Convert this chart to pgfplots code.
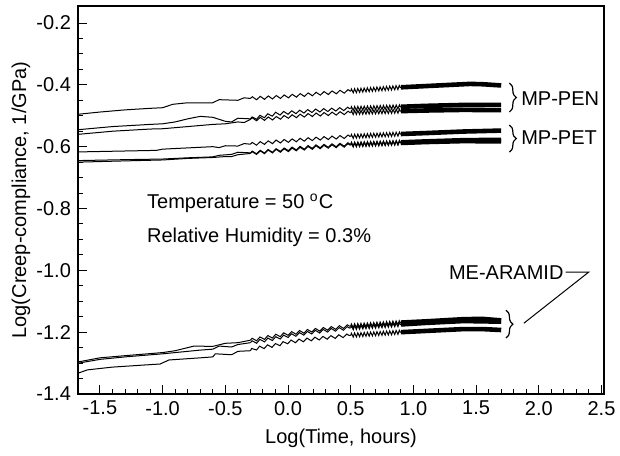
\documentclass[border=0pt]{standalone}
\usepackage{fontspec}
\setmainfont{Liberation Sans}
\usepackage{pgfplots}
\pgfplotsset{compat=1.18}
\usepackage{pgfplotstable}
\usetikzlibrary{decorations.pathmorphing,decorations.pathreplacing}

% MP-PEN
\pgfplotstableread{
x y
-1.67 -0.495
-1.5 -0.488
-1.3 -0.481
-1.1 -0.476
-1.0 -0.474
-0.92 -0.463
-0.8 -0.458
-0.6 -0.458
-0.55 -0.448
-0.4 -0.450
-0.35 -0.442
-0.3 -0.444
-0.1 -0.440
0.0 -0.437
0.2 -0.430
0.5 -0.420
0.7 -0.414
0.9 -0.408
1.1 -0.404
1.3 -0.400
1.45 -0.397
1.55 -0.398
1.7 -0.402
}\penA
\pgfplotstableread{
x y
-1.67 -0.545
-1.4 -0.535
-1.1 -0.528
-1.0 -0.526
-0.9 -0.520
-0.8 -0.510
-0.7 -0.502
-0.6 -0.505
-0.5 -0.518
-0.45 -0.520
-0.4 -0.508
-0.3 -0.510
-0.1 -0.494
0.0 -0.490
0.2 -0.484
0.5 -0.477
0.9 -0.471
1.1 -0.468
1.4 -0.465
1.7 -0.465
}\penB
\pgfplotstableread{
x y
-1.67 -0.560
-1.4 -0.550
-1.1 -0.543
-1.0 -0.542
-0.8 -0.535
-0.6 -0.528
-0.5 -0.526
-0.4 -0.520
-0.35 -0.522
-0.3 -0.512
-0.1 -0.508
0.0 -0.503
0.2 -0.497
0.5 -0.490
0.9 -0.485
1.1 -0.483
1.4 -0.481
1.7 -0.482
}\penC
% MP-PET
\pgfplotstableread{
x y
-1.67 -0.617
-1.3 -0.614
-1.05 -0.612
-1.0 -0.608
-0.8 -0.604
-0.6 -0.600
-0.55 -0.603
-0.5 -0.597
-0.4 -0.598
-0.35 -0.590
-0.3 -0.592
-0.1 -0.584
0.0 -0.581
0.2 -0.575
0.5 -0.567
0.9 -0.559
1.1 -0.556
1.4 -0.551
1.7 -0.548
}\petA
\pgfplotstableread{
x y
-1.67 -0.645
-1.3 -0.642
-1.0 -0.640
-0.8 -0.636
-0.6 -0.633
-0.55 -0.628
-0.45 -0.625
-0.4 -0.618
-0.3 -0.620
-0.1 -0.612
0.0 -0.608
0.2 -0.600
0.5 -0.592
0.9 -0.586
1.1 -0.583
1.4 -0.579
1.7 -0.578
}\petB
\pgfplotstableread{
x y
-1.67 -0.650
-1.3 -0.646
-1.0 -0.643
-0.8 -0.638
-0.6 -0.635
-0.5 -0.632
-0.45 -0.632
-0.4 -0.626
-0.3 -0.622
-0.1 -0.614
0.0 -0.611
0.2 -0.603
0.5 -0.595
0.9 -0.588
1.1 -0.585
1.4 -0.582
1.7 -0.583
}\petC
% ME-ARAMID
\pgfplotstableread{
x y
-1.67 -1.296
-1.5 -1.283
-1.3 -1.276
-1.0 -1.266
-0.9 -1.260
-0.75 -1.245
-0.6 -1.246
-0.5 -1.236
-0.4 -1.234
-0.3 -1.226
-0.1 -1.212
0.0 -1.205
0.2 -1.194
0.5 -1.180
0.9 -1.169
1.1 -1.165
1.4 -1.158
1.55 -1.157
1.7 -1.162
}\araA
\pgfplotstableread{
x y
-1.67 -1.300
-1.5 -1.288
-1.3 -1.280
-1.0 -1.270
-0.8 -1.262
-0.7 -1.258
-0.6 -1.255
-0.55 -1.245
-0.45 -1.248
-0.4 -1.240
-0.3 -1.234
-0.1 -1.220
0.0 -1.212
0.2 -1.200
0.5 -1.186
0.9 -1.175
1.1 -1.170
1.4 -1.164
1.7 -1.166
}\araB
\pgfplotstableread{
x y
-1.67 -1.332
-1.6 -1.322
-1.4 -1.313
-1.1 -1.305
-1.02 -1.303
-0.95 -1.290
-0.7 -1.283
-0.6 -1.280
-0.58 -1.270
-0.45 -1.273
-0.4 -1.262
-0.3 -1.260
-0.25 -1.252
-0.1 -1.242
0.0 -1.232
0.2 -1.222
0.5 -1.210
0.9 -1.200
1.1 -1.196
1.4 -1.190
1.55 -1.190
1.7 -1.193
}\araC

% thin start, zigzag middle, dense (thick) end
\newcommand{\creep}[1]{%
  \addplot[black, line width=0.5pt, restrict x to domain=-2:-0.29] table {#1};
  \addplot[black, line width=0.5pt, decorate,
    decoration={zigzag, segment length=4pt, amplitude=0.8pt},
    restrict x to domain=-0.31:0.51] table {#1};
  \addplot[black, line width=0.5pt, decorate,
    decoration={zigzag, segment length=1.6pt, amplitude=1.0pt},
    restrict x to domain=0.49:0.91] table {#1};
  \addplot[black, line width=2.3pt, line join=round, restrict x to domain=0.89:1.8] table {#1};
}

\begin{document}
\begin{tikzpicture}
\begin{axis}[
  scale only axis,
  width=263pt, height=194pt,
  xmin=-1.675, xmax=2.52,
  ymin=-1.4, ymax=-0.145,
  xtick={-1.5,-1.0,...,2.5},
  ytick={-1.4,-1.2,...,-0.2},
  minor x tick num=4,
  minor y tick num=3,
  xtick pos=left, ytick pos=left,
  tick align=inside,
  major tick length=4.5pt,
  minor tick length=2.5pt,
  tick style={black, line width=0.5pt},
  axis line style={line width=0.6pt},
  /pgf/number format/assume math mode=true,
  xticklabel style={/pgf/number format/.cd, fixed, fixed zerofill, precision=1},
  yticklabel style={/pgf/number format/.cd, fixed, fixed zerofill, precision=1},
  xlabel={Log(Time, hours)},
  ylabel={Log(Creep-compliance, 1/GPa)},
  every axis x label/.style={at={(axis description cs:0.5,-0.1134)}, anchor=center},
  every axis y label/.style={at={(axis description cs:-0.1084,0.5)}, rotate=90, anchor=center},
]
\creep{\penA}
\creep{\penB}
\creep{\penC}
\creep{\petA}
\creep{\petB}
\creep{\petC}
\creep{\araA}
\creep{\araB}
\creep{\araC}

\node[anchor=west, inner sep=0pt] at (axis cs:-1.127,-0.7825) {Temperature = 50 \textsuperscript{o}C};
\node[anchor=west, inner sep=0pt] at (axis cs:-1.127,-0.8926) {Relative Humidity = 0.3\%};

\draw[decorate, decoration={brace, amplitude=3.5pt}, line width=0.6pt]
  (axis cs:1.765,-0.394) -- (axis cs:1.765,-0.488);
\node[anchor=west, inner sep=0pt] at (axis cs:1.857,-0.443) {MP-PEN};
\draw[decorate, decoration={brace, amplitude=3.5pt}, line width=0.6pt]
  (axis cs:1.765,-0.530) -- (axis cs:1.765,-0.6175);
\node[anchor=west, inner sep=0pt] at (axis cs:1.857,-0.572) {MP-PET};
\draw[decorate, decoration={brace, amplitude=3.5pt}, line width=0.6pt]
  (axis cs:1.738,-1.129) -- (axis cs:1.738,-1.219);
\node[anchor=east, inner sep=0pt] at (axis cs:2.20,-1.006) {ME-ARAMID};
\draw[line width=0.5pt] (axis cs:2.214,-1.006) -- (axis cs:2.397,-1.006) -- (axis cs:1.881,-1.171);
\end{axis}
\pgfresetboundingbox
\path[use as bounding box] ([shift={(-39pt,-30.5pt)}]current axis.south west)
  rectangle ([shift={(8pt,3pt)}]current axis.north east);
\end{tikzpicture}
\end{document}
